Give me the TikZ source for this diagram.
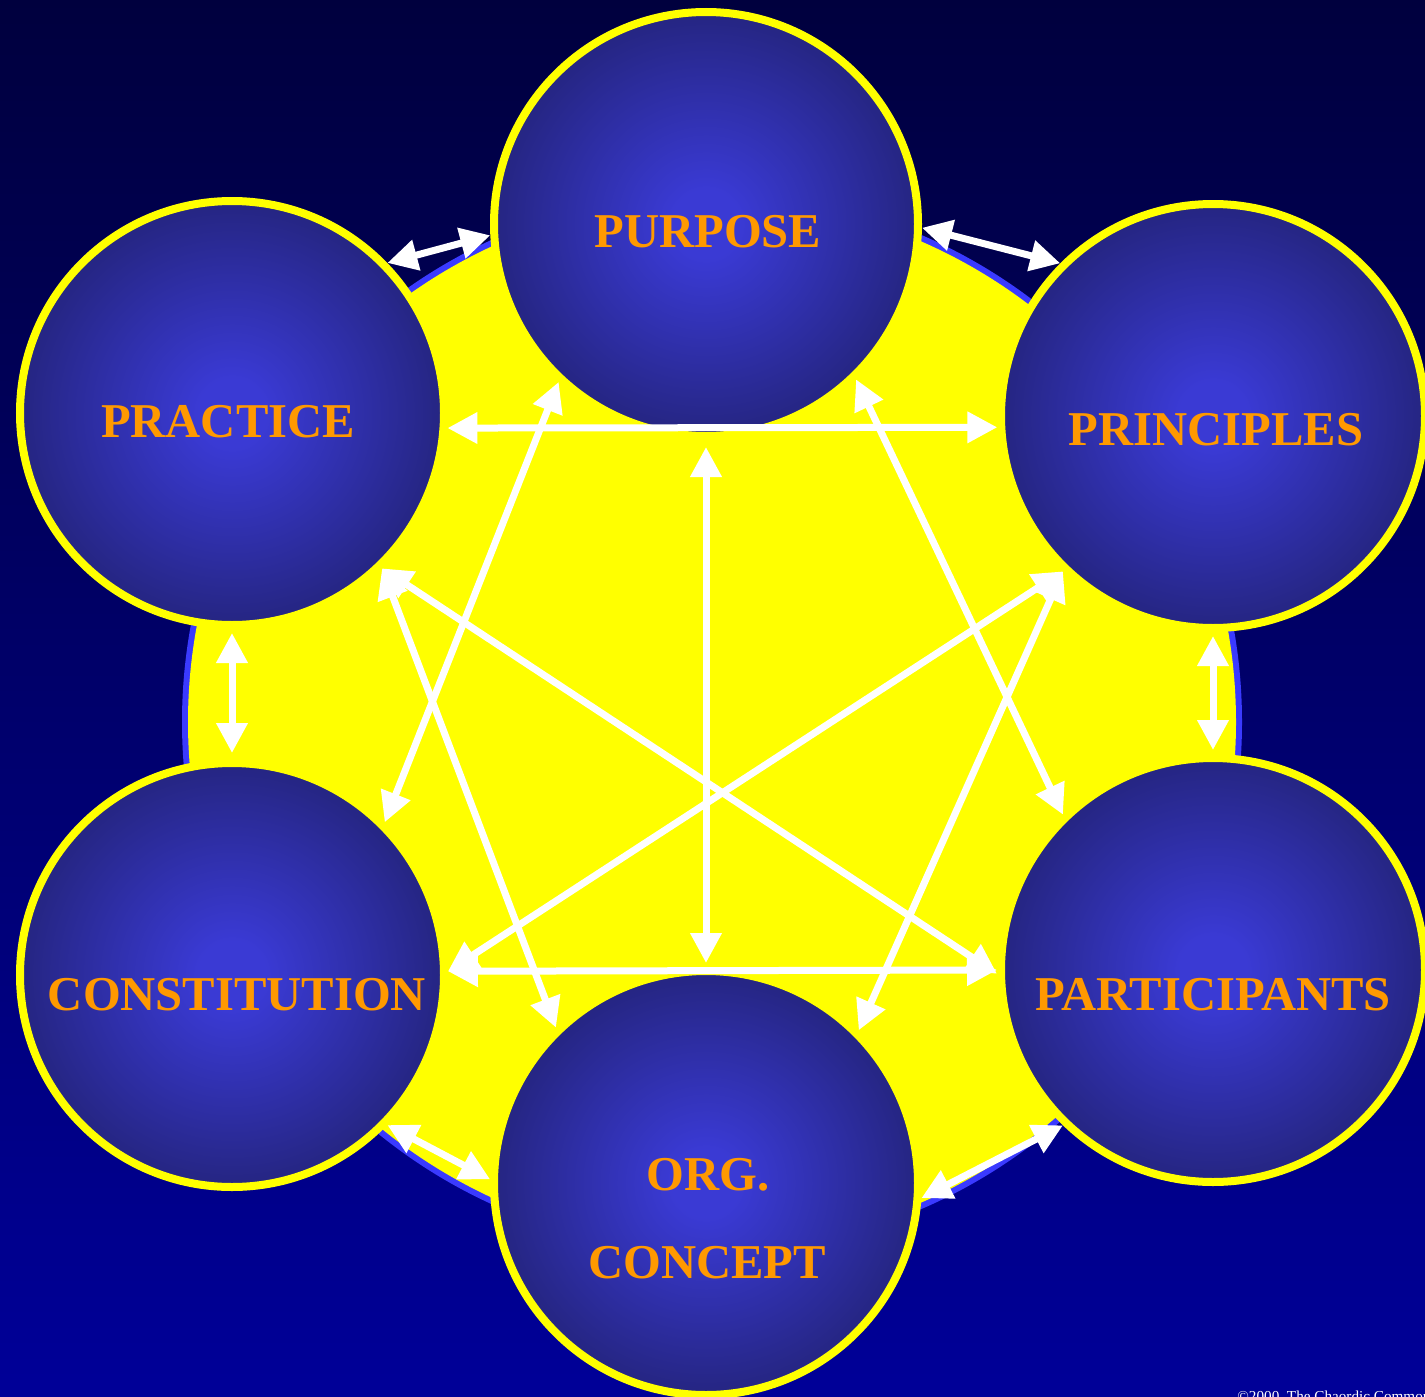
\documentclass[tikz,border=0pt]{standalone}
\usepackage{fontspec}
\setmainfont{Liberation Serif}
\usetikzlibrary{arrows.meta}
\definecolor{bgtop}{RGB}{0,0,62}
\definecolor{bgbot}{RGB}{0,0,152}
\definecolor{ballin}{RGB}{58,58,212}
\definecolor{ballout}{RGB}{28,28,94}
\definecolor{ringblue}{RGB}{58,58,255}
\definecolor{discyellow}{RGB}{255,255,0}
\definecolor{labelorange}{RGB}{255,153,0}
\pgfdeclareradialshading{ball}{\pgfpoint{0bp}{0bp}}{color(0bp)=(ballin); color(4bp)=(ballin); color(34bp)=(ballout); color(50bp)=(ballout)}
\tikzset{
  ball/.style={circle, shading=ball, draw=discyellow, line width=4pt, minimum size=212pt, inner sep=0pt},
  lbl/.style={text=labelorange, font=\bfseries\fontsize{24.3}{28}\selectfont, inner sep=0pt},
  conn/.style={draw=white, line width=3.5pt, {Triangle[length=15pt,width=15pt]}-{Triangle[length=15pt,width=15pt]}},
}
\begin{document}
\begin{tikzpicture}[x=0.5pt,y=-0.5pt]
\useasboundingbox (0,0) rectangle (1425,1397);
\clip (0,0) rectangle (1425,1397);
\fill[top color=bgtop, bottom color=bgbot] (0,0) rectangle (1425,1397);
% central disc
\fill[ringblue] (712,722) circle[radius=530];
\fill[discyellow] (712,722) circle[radius=524];
% circles
\node[ball] (pur) at (706,224) {};
\node[ball] (pra) at (232,413) {};
\node[ball] (pri) at (1213,416) {};
\node[ball] (con) at (232,975) {};
\node[ball] (par) at (1213,970) {};
\node[ball] (org) at (706,1183) {};
% labels
\node[lbl] (tpur) at (708,232) {PURPOSE};
\node[lbl] (tpra) at (228,422) {PRACTICE};
\node[lbl] (tpri) at (1216,430) {PRINCIPLES};
\node[lbl] (tcon) at (237,995) {CONSTITUTION};
\node[lbl] (tpar) at (1213,995) {PARTICIPANTS};
\node[lbl] (torg) at (708,1175) {ORG.};
\node[lbl] (tcpt) at (707,1263) {CONCEPT};
% connectors
\draw[conn] (pra.44) -- (pur.183.5);
\draw[conn] (pur.-1) -- (pri.135);
\draw[conn] ([yshift=-2pt]pra.south) -- ([yshift=3pt]con.north);
\draw[conn] ([yshift=-2pt]pri.south) -- ([yshift=2pt]par.north);
\draw[conn] (con.-44.4) -- (org.179);
\draw[conn] (org.-4) -- (par.-134);
\draw[conn] (pra.-4) -- (pri.183);
\draw[conn] (con.1) -- (par.180);
\draw[conn] ([yshift=-3.5pt]pur.south) -- ([yshift=2pt]org.north);
\draw[conn] (pur.-133) -- (con.45.7);
\draw[conn] (pur.-46) -- (par.134.6);
\draw[conn] (pra.-46) -- (par.181);
\draw[conn] (pri.-134) -- (con.1);
\draw[conn] (pra.-46) -- (org.134);
\draw[conn] (pri.-134) -- (org.45.7);
% copyright
\node[text=white, font=\fontsize{7.6}{9}\selectfont, anchor=base west, inner sep=0pt] (copy) at (1237,1401) {©2000, The Chaordic Commons};
\end{tikzpicture}
\end{document}
